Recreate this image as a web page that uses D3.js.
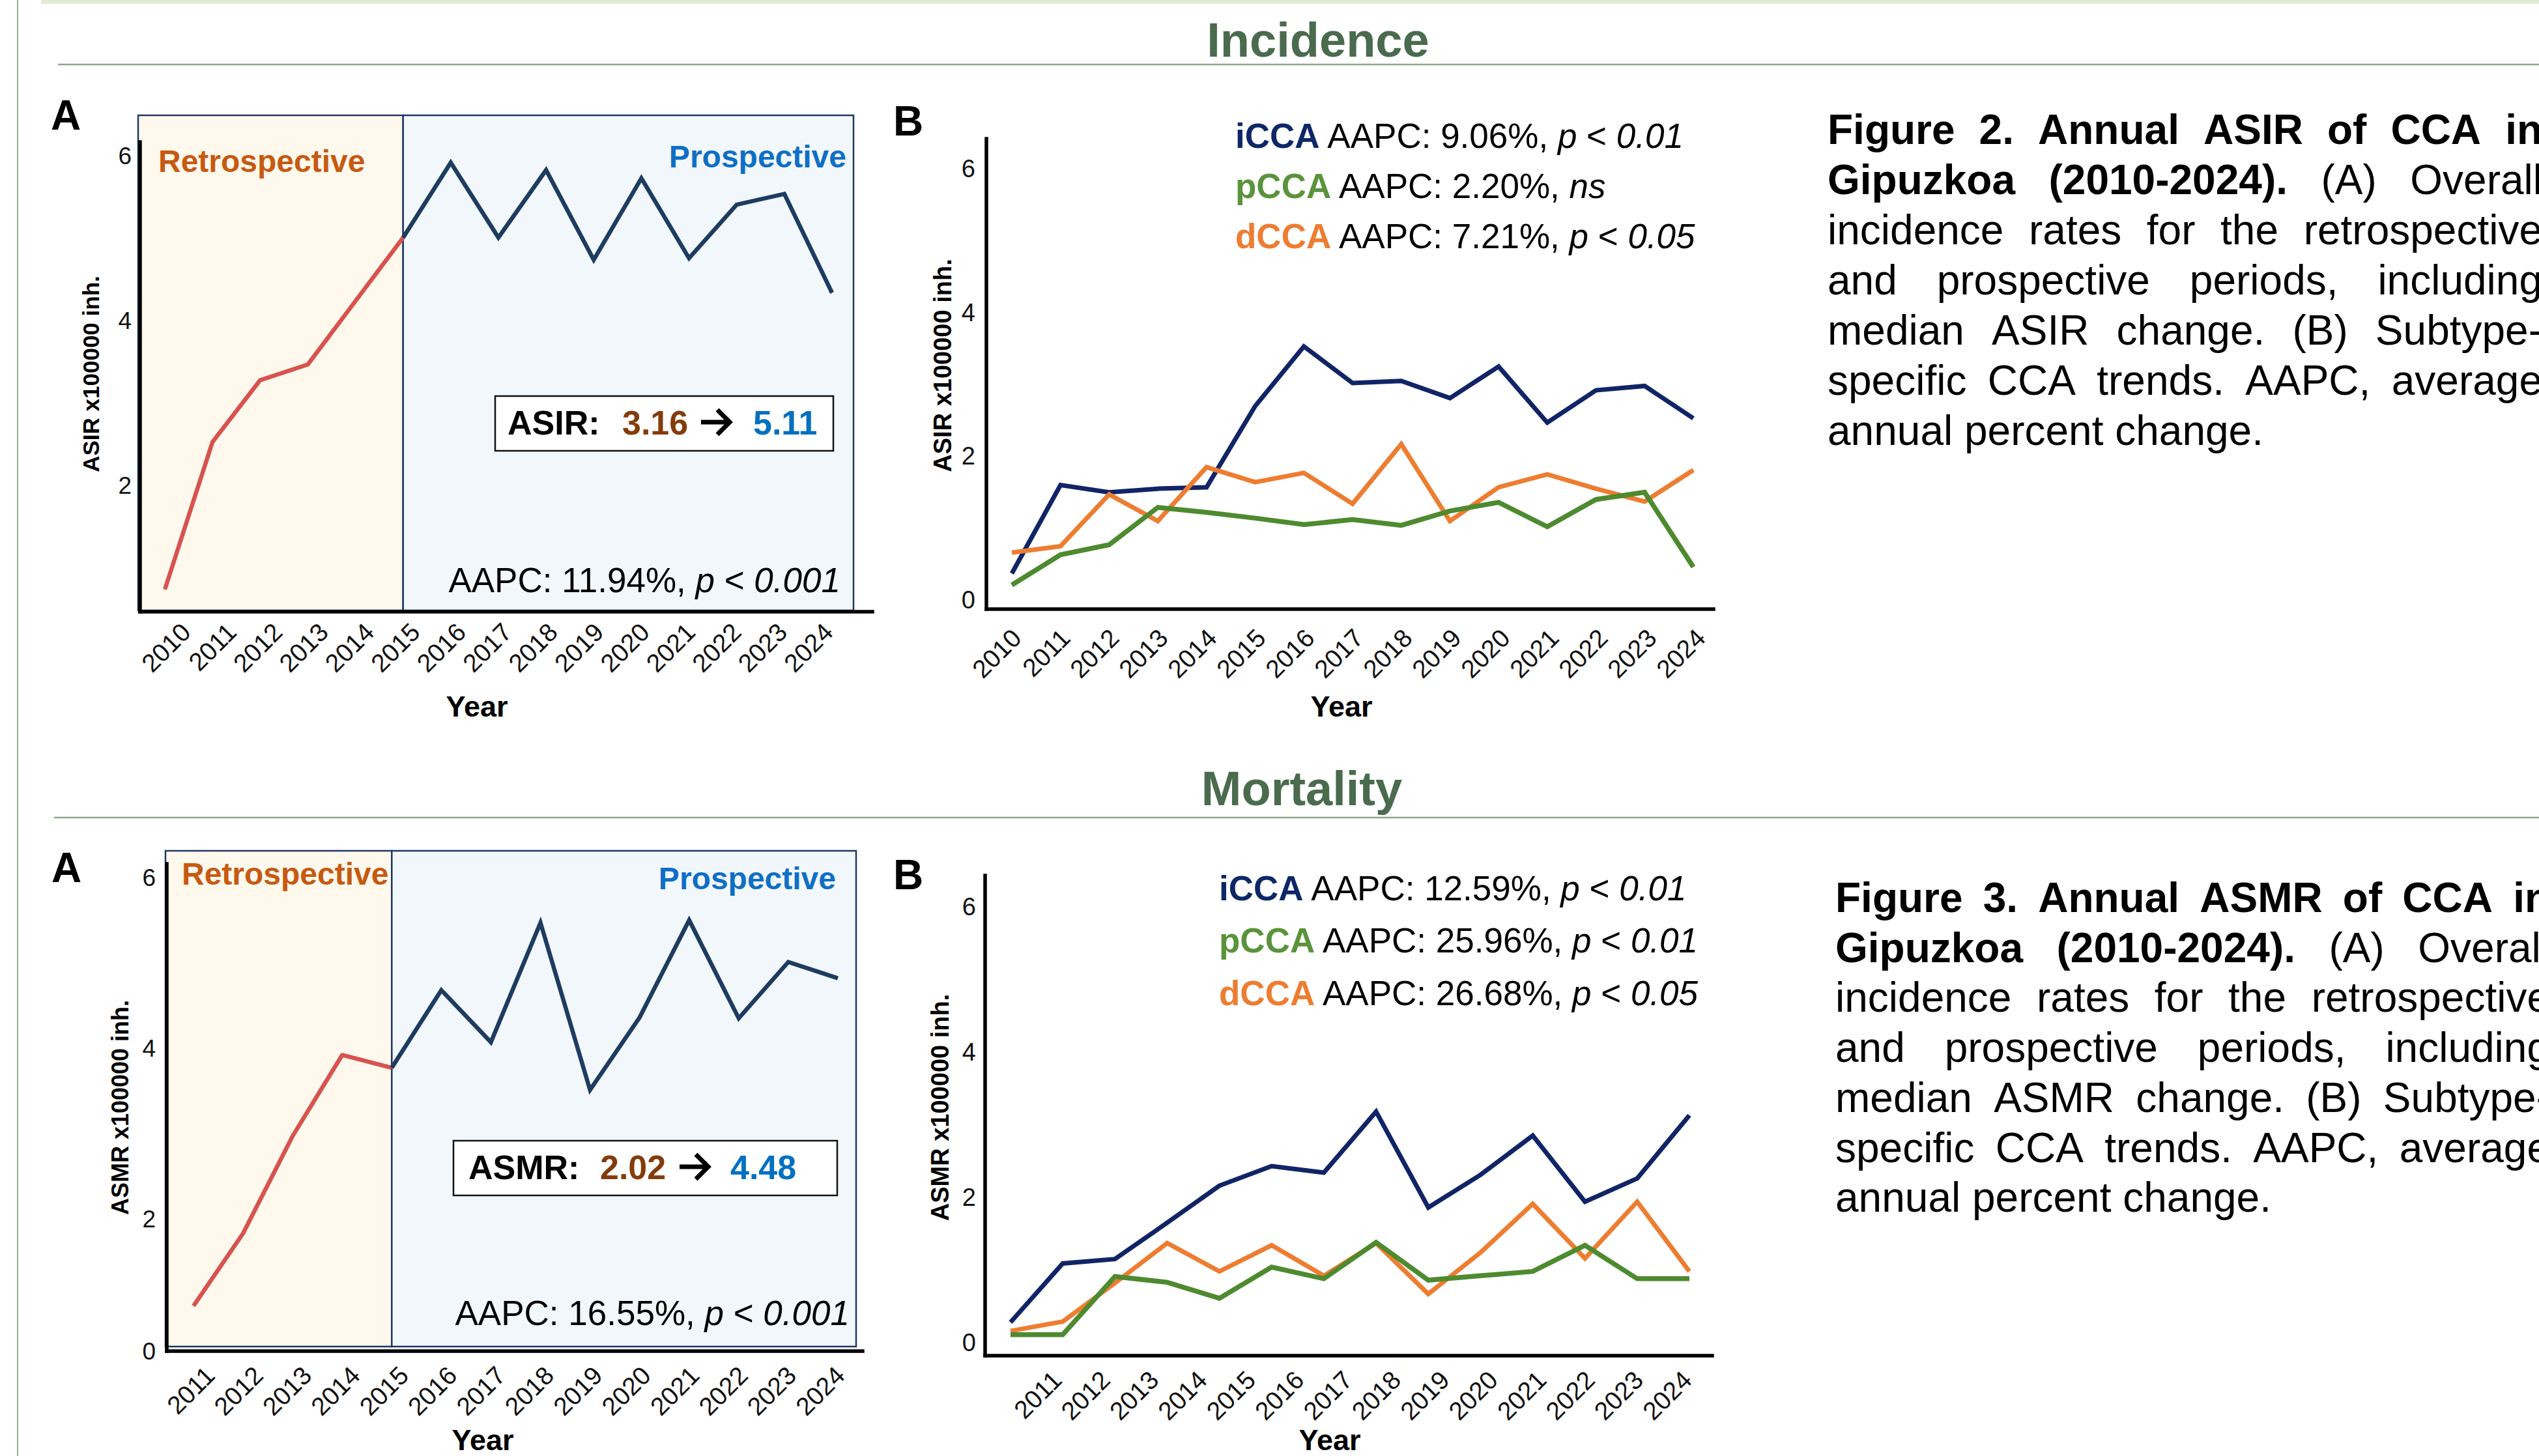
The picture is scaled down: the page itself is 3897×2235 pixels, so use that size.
<!DOCTYPE html>
<html><head><meta charset="utf-8">
<script src="https://cdn.jsdelivr.net/npm/d3@7"></script>
<style>
body{margin:0;background:#fff}
svg{display:block}
text{font-family:"Liberation Sans",Arial,Helvetica,sans-serif}
</style>
</head><body>
<svg id="c" width="3897" height="2235"></svg>
<script>
// ---------------- DATA ----------------
const incYears = [2010,2011,2012,2013,2014,2015,2016,2017,2018,2019,2020,2021,2022,2023,2024];
const incOverall = [0.73,2.52,3.27,3.46,4.23,5.00,5.91,5.00,5.82,4.73,5.72,4.75,5.40,5.53,4.33];
const incICCA = [0.36,1.59,1.49,1.54,1.56,2.69,3.52,3.01,3.04,2.80,3.24,2.46,2.91,2.97,2.52];
const incPCCA = [0.20,0.62,0.76,1.28,1.21,1.13,1.04,1.11,1.03,1.23,1.35,1.01,1.39,1.49,0.45];
const incDCCA = [0.65,0.74,1.46,1.09,1.84,1.63,1.76,1.33,2.16,1.09,1.56,1.74,1.54,1.36,1.80];

const mortYears = [2011,2012,2013,2014,2015,2016,2017,2018,2019,2020,2021,2022,2023,2024];
const mortOverall = [0.98,1.83,2.97,3.92,3.77,4.68,4.07,5.47,3.51,4.36,5.50,4.35,5.01,4.82];
const mortICCA = [0.27,1.08,1.14,1.64,2.15,2.42,2.33,3.17,1.85,2.30,2.84,1.93,2.25,3.12];
const mortPCCA = [0.10,0.10,0.90,0.82,0.60,1.03,0.87,1.37,0.85,0.91,0.97,1.33,0.87,0.87];
const mortDCCA = [0.15,0.28,0.81,1.36,0.97,1.33,0.91,1.36,0.66,1.23,1.90,1.15,1.93,0.97];

const incTickLabels = ["2010","2011","2012","2013","2014","2015","2016","2017","2018","2019","2020","2021","2022","2023","2024"];
const mortTickLabels = ["2011","2012","2013","2014","2015","2016","2017","2018","2019","2020","2021","2022","2023","2024"];
const yTicksIncA = [2,4,6];
const yTicksMortA = [0,2,4,6];
const yTicksB = [0,2,4,6];

const subtypes = ["iCCA","pCCA","dCCA"];
const incAAPC = [{v:"9.06%",p:"p < 0.01"},{v:"2.20%",p:"ns"},{v:"7.21%",p:"p < 0.05"}];
const mortAAPC = [{v:"12.59%",p:"p < 0.01"},{v:"25.96%",p:"p < 0.01"},{v:"26.68%",p:"p < 0.05"}];

// ---------------- STYLE ----------------
const C = {
  retroBg:"#fff8ec", proBg:"#f2f7fc", frame:"#1f3864",
  retroLine:"#d65350", proLine:"#1d3c60",
  retroText:"#c55a11", proText:"#0f6fc4",
  brown:"#843c0c", blue:"#0070c0",
  title:"#4a6b4d", rule:"#8fa58e",
  sub:{iCCA:"#112466", pCCA:"#4e8a2f", dCCA:"#ed7d31"},
  subText:{iCCA:"#0d2767", pCCA:"#5a933b", dCCA:"#ed7d31"}
};

const svg = d3.select("#c");

// decorations
svg.append("rect").attr("x",63).attr("y",0).attr("width",3897-63).attr("height",6).attr("fill","#e2ecd5");
svg.append("line").attr("x1",27).attr("x2",27).attr("y1",0).attr("y2",2235).attr("stroke","#9aab98").attr("stroke-width",2);
svg.append("line").attr("x1",89).attr("x2",3897).attr("y1",99).attr("y2",99).attr("stroke",C.rule).attr("stroke-width",2.5);
svg.append("line").attr("x1",83).attr("x2",3897).attr("y1",1255).attr("y2",1255).attr("stroke",C.rule).attr("stroke-width",2.5);

svg.append("text").attr("x",2023).attr("y",87).attr("text-anchor","middle").attr("font-size",74)
  .attr("font-weight","bold").attr("fill",C.title).text("Incidence");
svg.append("text").attr("x",1998).attr("y",1236).attr("text-anchor","middle").attr("font-size",74)
  .attr("font-weight","bold").attr("fill",C.title).text("Mortality");

function letter(x,y,t){
  svg.append("text").attr("x",x).attr("y",y).attr("font-size",64).attr("font-weight","bold").attr("fill","#000").text(t);
}
letter(78,199,"A"); letter(1371,208,"B"); letter(79,1354,"A"); letter(1371,1365,"B");

function axes(g, c, y){
  const ya = d3.axisLeft(y.copy().clamp(true)).tickValues(c.yTicks).tickSize(0).tickPadding(c.tickPad).tickFormat(d3.format("d"));
  const ag = g.append("g").attr("transform",`translate(${c.axisX},0)`).call(ya);
  ag.select(".domain").remove();
  ag.attr("font-family",null).attr("font-size",null);
  ag.selectAll("text").attr("font-size",c.tickFont).attr("fill","#111").attr("dy","0.35em");
  g.append("line").attr("x1",c.axisX).attr("x2",c.axisX).attr("y1",c.yRange[1]).attr("y2",c.yRange[0])
    .attr("stroke","#000").attr("stroke-width",5.5).attr("stroke-linecap","square");
  g.append("line").attr("x1",c.axisX).attr("x2",c.xAxisEnd).attr("y1",c.yRange[0]).attr("y2",c.yRange[0])
    .attr("stroke","#000").attr("stroke-width",5.5).attr("stroke-linecap","square");
  const xl = d3.scalePoint().domain(c.labels).range(c.labelRange);
  g.selectAll("text.xl").data(c.labels).join("text").attr("class","xl")
    .attr("transform",d=>`translate(${xl(d)},${c.labelY}) rotate(-45)`)
    .attr("text-anchor","end").attr("font-size",39).attr("fill","#111").text(d=>d);
  g.append("text").attr("transform",`translate(${c.ylabX},${c.ylabY}) rotate(-90)`).attr("text-anchor","middle")
    .attr("dy","0.35em").attr("font-size",c.ylabFont).attr("font-weight","bold").text(c.ylab);
  g.append("text").attr("x",c.yearX).attr("y",c.yearY).attr("text-anchor","middle").attr("font-size",45)
    .attr("font-weight","bold").text("Year");
}

function drawOverall(c){
  const g = svg.append("g");
  const x = d3.scalePoint().domain(c.years).range(c.xRange);
  const y = d3.scaleLinear().domain(c.yDomain).range(c.yRange);
  const split = x(c.splitYear);
  g.append("rect").attr("x",c.rectX0).attr("y",c.rectY0).attr("width",split-c.rectX0).attr("height",c.rectY1-c.rectY0)
    .attr("fill",C.retroBg).attr("stroke",C.frame).attr("stroke-width",2.5);
  g.append("rect").attr("x",split).attr("y",c.rectY0).attr("width",c.rectX1-split).attr("height",c.rectY1-c.rectY0)
    .attr("fill",C.proBg).attr("stroke",C.frame).attr("stroke-width",2.5);
  const pts = c.years.map((yr,i)=>({yr, v:c.values[i]}));
  const line = d3.line().x(d=>x(d.yr)).y(d=>y(d.v));
  g.append("path").datum(pts.filter(d=>d.yr<=c.splitYear)).attr("d",line).attr("fill","none")
    .attr("stroke",C.retroLine).attr("stroke-width",6.5).attr("stroke-linejoin","round");
  g.append("path").datum(pts.filter(d=>d.yr>=c.splitYear)).attr("d",line).attr("fill","none")
    .attr("stroke",C.proLine).attr("stroke-width",6.5).attr("stroke-linejoin","miter");
  axes(g,c,y);
  g.append("text").attr("x",c.retroX).attr("y",c.retroY).attr("font-size",48).attr("font-weight","bold")
    .attr("fill",C.retroText).text("Retrospective");
  g.append("text").attr("x",c.proX).attr("y",c.proY).attr("text-anchor","end").attr("font-size",48).attr("font-weight","bold")
    .attr("fill",C.proText).text("Prospective");
  g.append("rect").attr("x",c.box[0]).attr("y",c.box[1]).attr("width",c.box[2]-c.box[0]).attr("height",c.box[3]-c.box[1])
    .attr("fill","#fff").attr("stroke","#111").attr("stroke-width",2.5);
  const bt = g.append("text").attr("y",c.boxTextY).attr("font-size",52).attr("font-weight","bold");
  bt.append("tspan").attr("x",c.boxXs[0]).attr("fill","#000").text(c.metric+":");
  bt.append("tspan").attr("x",c.boxXs[1]).attr("fill",C.brown).text(c.from);
  bt.append("tspan").attr("x",c.boxXs[3]).attr("fill",C.blue).text(c.to);
  // arrow glyph drawn as a stroke, sized to the text cap height
  const ax = c.boxXs[2], ay = c.boxTextY - 19, aw = 44, ah = 19;
  g.append("path").attr("d",`M${ax},${ay}H${ax+aw-3}M${ax+aw-ah},${ay-ah}L${ax+aw},${ay}L${ax+aw-ah},${ay+ah}`)
    .attr("fill","none").attr("stroke","#000").attr("stroke-width",7).attr("stroke-linejoin","miter");
  const at = g.append("text").attr("x",c.aapcX).attr("y",c.aapcY).attr("text-anchor","end").attr("font-size",53).attr("fill","#000");
  at.append("tspan").text(`AAPC: ${c.aapc}, `);
  at.append("tspan").attr("font-style","italic").text("p");
  at.append("tspan").text(" < ");
  at.append("tspan").attr("font-style","italic").text("0.001");
}

function drawSub(c){
  const g = svg.append("g");
  const x = d3.scalePoint().domain(c.years).range(c.xRange);
  const y = d3.scaleLinear().domain(c.yDomain).range(c.yRange);
  const line = d3.line().x((d,i)=>x(c.years[i])).y(d=>y(d));
  axes(g,c,y);
  [["iCCA",c.series.iCCA],["dCCA",c.series.dCCA],["pCCA",c.series.pCCA]].forEach(([k,vals])=>{
    g.append("path").datum(vals).attr("d",line).attr("fill","none").attr("stroke",C.sub[k])
      .attr("stroke-width",k==="pCCA"?7.5:7).attr("stroke-linejoin","miter");
  });
  subtypes.forEach((k,i)=>{
    const t = g.append("text").attr("x",c.legX).attr("y",c.legY[i]).attr("font-size",53).attr("fill","#000");
    t.append("tspan").attr("font-weight","bold").attr("fill",C.subText[k]).text(k);
    t.append("tspan").text(` AAPC: ${c.aapc[i].v}, `);
    if (c.aapc[i].p === "ns") {
      t.append("tspan").attr("font-style","italic").text("ns");
    } else {
      const parts = c.aapc[i].p.split(" < ");
      t.append("tspan").attr("font-style","italic").text(parts[0]);
      t.append("tspan").text(" < ");
      t.append("tspan").attr("font-style","italic").text(parts[1]);
    }
  });
}

// ---------------- PANELS ----------------
drawOverall({
  years:incYears, values:incOverall, splitYear:2015,
  xRange:[253,1277], yDomain:[0.46,6.16], yRange:[939,218],
  rectX0:212, rectX1:1310, rectY0:177, rectY1:937,
  axisX:215, xAxisEnd:1339, yTicks:yTicksIncA, tickPad:13, tickFont:37,
  labels:incTickLabels, labelRange:[295,1281], labelY:973,
  ylab:"ASIR x100000 inh.", ylabX:140, ylabY:574, ylabFont:35,
  yearX:732, yearY:1100,
  retroX:243, retroY:264, proX:1299, proY:257,
  box:[760,608,1279,692], boxTextY:667, boxXs:[779,955,1076,1156],
  metric:"ASIR", from:"3.16", to:"5.11",
  aapc:"11.94%", aapcX:1290, aapcY:909
});

drawOverall({
  years:mortYears, values:mortOverall, splitYear:2015,
  xRange:[297,1286], yDomain:[0.45,6.16], yRange:[2074,1326],
  rectX0:254, rectX1:1314, rectY0:1306, rectY1:2067,
  axisX:256, xAxisEnd:1324, yTicks:yTicksMortA, tickPad:17, tickFont:37,
  labels:mortTickLabels, labelRange:[332,1299], labelY:2114,
  ylab:"ASMR x100000 inh.", ylabX:184, ylabY:1700, ylabFont:36,
  yearX:741, yearY:2226,
  retroX:279, retroY:1358, proX:1283, proY:1365,
  box:[696,1751,1285,1835], boxTextY:1810, boxXs:[719,921,1043,1121],
  metric:"ASMR", from:"2.02", to:"4.48",
  aapc:"16.55%", aapcX:1304, aapcY:2034
});

drawSub({
  years:incYears, series:{iCCA:incICCA,pCCA:incPCCA,dCCA:incDCCA},
  xRange:[1553,2599], yDomain:[-0.136,6.41], yRange:[935,213],
  axisX:1514, xAxisEnd:2630, yTicks:yTicksB, tickPad:17, tickFont:38,
  labels:incTickLabels, labelRange:[1570,2620], labelY:982,
  ylab:"ASIR x100000 inh.", ylabX:1447, ylabY:561, ylabFont:38,
  yearX:2059, yearY:1100,
  legX:1896, legY:[227,304,381], aapc:incAAPC
});

drawSub({
  years:mortYears, series:{iCCA:mortICCA,pCCA:mortPCCA,dCCA:mortDCCA},
  xRange:[1551,2593], yDomain:[-0.19,6.42], yRange:[2081,1344],
  axisX:1512, xAxisEnd:2628, yTicks:yTicksB, tickPad:14, tickFont:38,
  labels:mortTickLabels, labelRange:[1632,2599], labelY:2121,
  ylab:"ASMR x100000 inh.", ylabX:1443, ylabY:1700, ylabFont:38,
  yearX:2041, yearY:2226,
  legX:1871, legY:[1382,1462,1543], aapc:mortAAPC
});

// ---------------- CAPTIONS ----------------
const caption2 = [
  [["Figure 2. Annual ASIR of CCA in",true]],
  [["Gipuzkoa (2010-2024).",true],["(A) Overall",false]],
  [["incidence rates for the retrospective",false]],
  [["and prospective periods, including",false]],
  [["median ASIR change. (B) Subtype-",false]],
  [["specific CCA trends. AAPC, average",false]],
  [["annual percent change.",false]]
];
const caption3 = [
  [["Figure 3. Annual ASMR of CCA in",true]],
  [["Gipuzkoa (2010-2024).",true],["(A) Overall",false]],
  [["incidence rates for the retrospective",false]],
  [["and prospective periods, including",false]],
  [["median ASMR change. (B) Subtype-",false]],
  [["specific CCA trends. AAPC, average",false]],
  [["annual percent change.",false]]
];
function caption(lines, x0, y0, lh, width){
  const g = svg.append("g");
  lines.forEach((segs,li)=>{
    const words = [];
    segs.forEach(([t,b])=>t.split(" ").filter(w=>w).forEach(w=>words.push({w,b})));
    const y = y0 + li*lh;
    const nodes = words.map(d=>g.append("text").attr("y",y).attr("font-size",64)
      .attr("font-weight",d.b?"bold":"normal").attr("fill","#000").text(d.w));
    const widths = nodes.map(n=>n.node().getComputedTextLength());
    const last = li === lines.length-1;
    const gap = last ? 64*0.278 : (width - d3.sum(widths))/(words.length-1);
    let cx = x0;
    nodes.forEach((n,i)=>{ n.attr("x",cx); cx += widths[i] + gap; });
  });
}
caption(caption2, 2805, 221, 77, 1097);
caption(caption3, 2817, 1400, 76.7, 1097);
</script>
</body></html>
